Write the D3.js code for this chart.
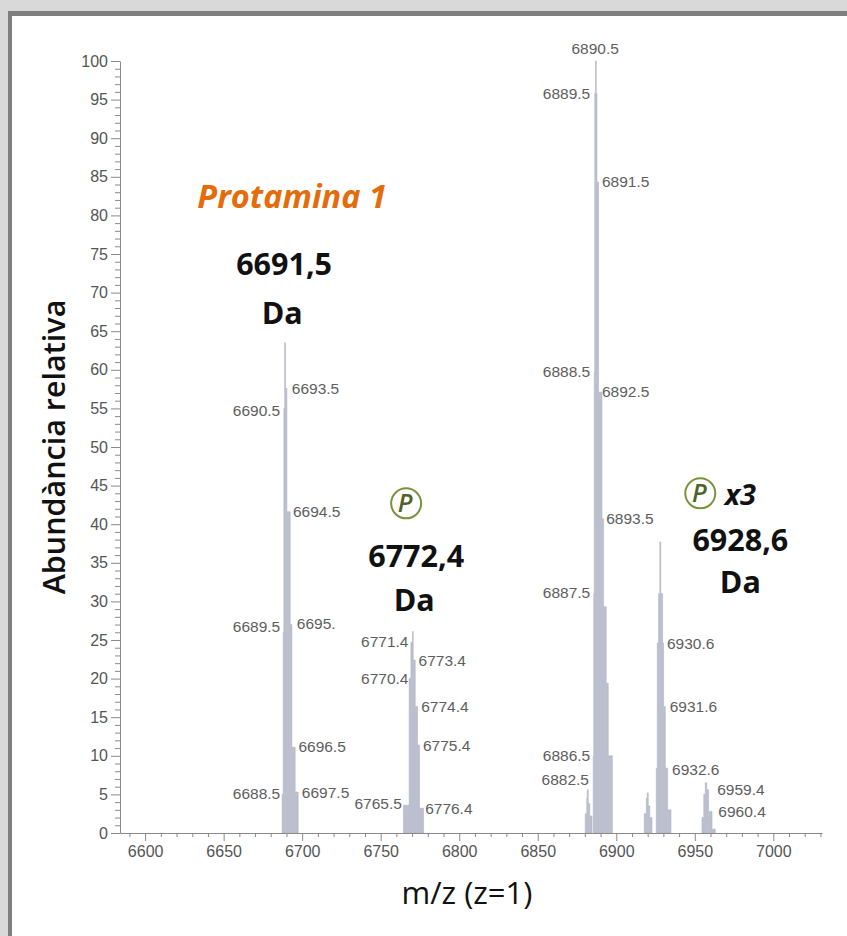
<!DOCTYPE html>
<html>
<head>
<meta charset="utf-8">
<script src="https://cdn.jsdelivr.net/npm/d3@7"></script>
<style>
  html, body { margin: 0; padding: 0; background: #d9d9d9; }
  svg { display: block; }
</style>
</head>
<body>
<script>
// ---------- data ----------
// spectrum envelopes: [m/z, relative abundance] step points (read from the picture's axis)
const profile6691 = [[6687.26,5],[6687.90,26],[6688.34,55],[6688.85,63.5],[6689.36,57.6],[6690.25,41.6],[6692.36,27],[6693.44,11.1],[6695.54,5.3],[6697.45,0]];
const profile6772 = [[6764.52,3.6],[6768.15,20],[6769.24,24.7],[6770.25,26.1],[6770.70,22.4],[6771.97,16.4],[6773.44,11.4],[6774.71,3.2],[6777.26,0]];
const profile6882 = [[6880.25,2.5],[6881.21,4.5],[6881.53,5.6],[6882.17,3.8],[6883.12,2.2],[6884.52,0]];
const profile6890 = [[6885.35,10],[6885.67,31],[6885.99,59.7],[6886.31,95.8],[6886.82,100],[6887.26,95.8],[6887.71,84.3],[6888.73,57.1],[6890.89,40.7],[6891.91,29.3],[6893.6,19.4],[6894.9,10],[6897.5,0]];
const profile6920 = [[6917.83,2.5],[6919.11,4.5],[6919.75,5.2],[6920.38,3.5],[6921.34,2],[6922.74,0]];
const profile6928 = [[6925.48,8.4],[6926.11,24.6],[6926.94,31],[6927.71,37.7],[6928.34,31],[6929.49,24.6],[6930.13,16.4],[6931.21,8.4],[6932.68,3],[6934.84,0]];
const profile6959 = [[6954.59,2],[6955.73,5],[6956.69,6.5],[6957.64,5.6],[6958.79,2.8],[6960.96,0.5],[6963.06,0]];
const profiles = [profile6691, profile6772, profile6882, profile6890, profile6920, profile6928, profile6959];

// peak labels: text, m/z anchor, abundance anchor, side
const peakLabelText = ["6690.5","6693.5","6694.5","6689.5","6695.","6696.5","6688.5","6697.5",
  "6771.4","6773.4","6770.4","6774.4","6775.4","6765.5","6776.4",
  "6890.5","6889.5","6891.5","6888.5","6892.5","6893.5","6887.5","6886.5","6882.5",
  "6930.6","6931.6","6932.6","6959.4","6960.4"];
const peakLabelMz = [6686.0,6693.4,6694.1,6686.0,6696.6,6697.6,6686.0,6699.8,
  6767.7,6774.1,6767.7,6775.8,6776.9,6763.5,6778.3,
  6886.6,6883.4,6890.9,6883.4,6890.9,6893.6,6883.4,6883.4,6882.6,
  6932.3,6934.0,6935.5,6964.3,6965.0];
const peakLabelAb = [54.8,57.6,41.6,26.7,27.2,11.2,5.1,5.3,
  24.8,22.4,20.0,16.4,11.4,3.8,3.2,
  101.6,95.8,84.4,59.8,57.2,40.7,31.1,10.0,6.9,
  24.6,16.4,8.3,5.6,2.8];
const peakLabelSide = ["end","start","start","end","start","start","end","start",
  "end","start","end","start","start","end","start",
  "middle","end","start","end","start","start","end","end","end",
  "start","start","start","start","start"];

// annotations
const massText = ["6691,5","6772,4","6928,6"];
const massMz = [6688.5, 6772.6, 6979.0];
const massAb = [72.3, 34.5, 36.5];
const daMz = [6687.3, 6771.3, 6979.0];
const daAb = [65.9, 28.8, 31.1];
const phosMz = [6766.2, 6953.5];
const phosAb = [42.7, 44.0];

const xMajorTicks = [6600, 6650, 6700, 6750, 6800, 6850, 6900, 6950, 7000];
const yMajorTicks = [0,5,10,15,20,25,30,35,40,45,50,55,60,65,70,75,80,85,90,95,100];
const xDomain = [6584, 7031];
const yDomain = [0, 100];

// ---------- layout ----------
const W = 847, H = 936;
const svg = d3.select("body").append("svg").attr("width", W).attr("height", H);

// frame
svg.append("rect").attr("x",0).attr("y",0).attr("width",W).attr("height",H).attr("fill","#d9d9d9");
svg.append("rect").attr("x",8).attr("y",11).attr("width",W-8).attr("height",H-11).attr("fill","#7f7f7f");
svg.append("rect").attr("x",12).attr("y",16).attr("width",W-12).attr("height",H-16).attr("fill","#ffffff");

const x = d3.scaleLinear().domain(xDomain).range([120, 822]);
const y = d3.scaleLinear().domain(yDomain).range([833, 61]);

// peaks
const area = d3.area()
  .curve(d3.curveStepAfter)
  .x(d => x(d[0]))
  .y0(y(0))
  .y1(d => y(d[1]));

svg.append("g").selectAll("path").data(profiles).join("path")
  .attr("d", area)
  .attr("fill", "#bcbfcd")
  .attr("stroke", "#b0b4c4")
  .attr("stroke-width", 0.6);

// axes
const axisColor = "#8a8a8a";
const tickFont = "'Liberation Sans', Arial, sans-serif";
const fmt = d3.format("d");

const gy = svg.append("g").attr("transform", `translate(${x(xDomain[0])},0)`);
gy.call(d3.axisLeft(y).tickValues(d3.range(0, 101, 1)).tickSize(5).tickSizeOuter(0).tickFormat(""));
gy.call(g => g.selectAll(".tick").filter(d => d % 5 === 0).remove());
const gyMaj = svg.append("g").attr("transform", `translate(${x(xDomain[0])},0)`);
gyMaj.call(d3.axisLeft(y).tickValues(yMajorTicks).tickSize(9).tickSizeOuter(0).tickPadding(3).tickFormat(fmt));

const gx = svg.append("g").attr("transform", `translate(0,${y(0)})`);
gx.call(d3.axisBottom(x).tickValues(d3.range(6590, 7031, 10)).tickSize(4).tickSizeOuter(0).tickFormat(""));
gx.call(g => g.selectAll(".tick").filter(d => d % 50 === 0).remove());
const gxMaj = svg.append("g").attr("transform", `translate(0,${y(0)})`);
gxMaj.call(d3.axisBottom(x).tickValues(xMajorTicks).tickSize(8).tickSizeOuter(0).tickPadding(5).tickFormat(fmt));

[gy, gyMaj, gx, gxMaj].forEach(g => {
  g.selectAll("path, line").attr("stroke", axisColor).attr("stroke-width", 1);
  g.selectAll("text").attr("fill", "#555").style("font-family", tickFont).style("font-size", "16px");
});
gxMaj.selectAll("path").remove();
gyMaj.selectAll("path").remove();

// peak labels
svg.append("g").selectAll("text").data(peakLabelText).join("text")
  .attr("x", (d, i) => x(peakLabelMz[i]))
  .attr("y", (d, i) => y(peakLabelAb[i]))
  .attr("dy", "0.36em")
  .attr("text-anchor", (d, i) => peakLabelSide[i])
  .attr("fill", "#5e5e5e")
  .style("font-family", tickFont)
  .style("font-size", "15.5px")
  .text(d => d);

// annotations
const annFont = "'Open Sans', 'Noto Sans', sans-serif";
svg.append("text")
  .attr("x", x(6693.6)).attr("y", y(81.0))
  .attr("text-anchor", "middle")
  .attr("fill", "#e46c0a")
  .style("font-family", annFont).style("font-weight", 700).style("font-style", "italic")
  .style("font-size", "32.5px")
  .text("Protamina 1");

svg.append("g").selectAll("text").data(massText).join("text")
  .attr("x", (d, i) => x(massMz[i])).attr("y", (d, i) => y(massAb[i]))
  .attr("text-anchor", "middle").attr("fill", "#111")
  .style("font-family", annFont).style("font-weight", 700).style("font-size", "30.5px")
  .text(d => d);

svg.append("g").selectAll("text").data(daMz).join("text")
  .attr("x", d => x(d)).attr("y", (d, i) => y(daAb[i]))
  .attr("text-anchor", "middle").attr("fill", "#111")
  .style("font-family", annFont).style("font-weight", 700).style("font-size", "30.5px")
  .text("Da");

const phos = svg.append("g").selectAll("g").data(phosMz).join("g")
  .attr("transform", (d, i) => `translate(${x(d)},${y(phosAb[i])})`);
phos.append("circle").attr("r", 15).attr("fill", "#fff").attr("stroke", "#77933c").attr("stroke-width", 2);
phos.append("text").attr("text-anchor", "middle").attr("dy", "0.36em").attr("dx", -1)
  .attr("fill", "#4f6228")
  .style("font-family", annFont).style("font-style", "italic").style("font-weight", 600)
  .style("font-size", "25px").text("P");

svg.append("text")
  .attr("x", x(6969.0)).attr("y", y(42.5))
  .attr("fill", "#111")
  .style("font-family", annFont).style("font-weight", 700).style("font-style", "italic")
  .style("font-size", "29px")
  .text("x3");

// axis titles
svg.append("text")
  .attr("transform", `translate(65,447) rotate(-90)`)
  .attr("text-anchor", "middle").attr("fill", "#111")
  .style("font-family", annFont).style("font-weight", 600).style("font-size", "30.5px")
  .text("Abundància relativa");

svg.append("text")
  .attr("x", 467).attr("y", 904)
  .attr("text-anchor", "middle").attr("fill", "#111")
  .style("font-family", annFont).style("font-weight", 500).style("font-size", "31px")
  .text("m/z (z=1)");
</script>
</body>
</html>
